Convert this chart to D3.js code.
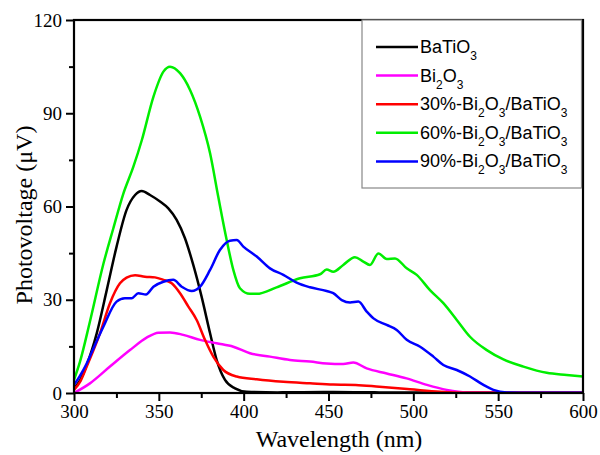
<!DOCTYPE html>
<html>
<head>
<meta charset="utf-8">
<script src="https://cdn.jsdelivr.net/npm/d3@7"></script>
<style>
  body { margin: 0; background: #fff; }
  svg { display: block; }
</style>
</head>
<body>
<script>
// plot box
const d_box = {left: 74, right: 583, top: 20, bottom: 393};

// series: [wavelength nm, photovoltage uV]
var a_batio3 = [[300,1.5],[304,4.5],[307.5,9],[313.4,19.2],[319.3,33.1],[325.1,47.1],[331,58.9],[336,63.7],[339.9,65],
    [344.8,63.7],[350.7,61.6],[355.6,59.4],[360.5,55.7],[365.4,49.8],[370.3,41.2],[375.2,31],[380.2,19.2],
    [384.1,10.6],[389,4.2],[394.9,1.5],[401.8,0.4],[420,0.2],[450,0.3],[480,0.2],[520,0.2],[560,0.1],[600,0.1]];
var a_bi2o3 = [[300,0],[309.4,3.1],[321.2,8.5],[333,13.8],[342.8,17.8],[349.7,19.4],[356.6,19.5],[364.4,18.7],
    [374.3,17.1],[384.1,16],[393.9,14.9],[403.7,12.8],[415.5,11.7],[427.3,10.6],[439.1,10.1],[448.9,9.5],
    [458.7,9.3],[464.6,9.8],[472.5,7.9],[484.3,6.3],[496,4.7],[508,2.6],[519.7,1],[531.5,0.2],[560,0.1],[600,0.1]];
var a_bi30 = [[300,1],[304,4],[307.5,8.5],[315.3,19.2],[321.2,28.9],[327.1,35.3],[331,37.1],[336,37.9],[341.8,37.4],
    [347.7,37.2],[352.7,36.4],[357.6,35.3],[362.5,32.1],[367.4,27.8],[372.3,23.5],[377.2,17.1],[382.1,11.7],
    [388,7.4],[395.9,5.3],[407.7,4.4],[423.4,3.6],[439.1,3.1],[452.8,2.7],[466,2.6],[480,2],[498,1.2],
    [515.7,0.4],[530,0.1],[560,0.1],[600,0.1]];
var a_bi60 = [[300,4.2],[303.5,10],[309.4,23],[317.3,41.5],[323.2,53],[329,64],[335,72.8],[340,81.4],
    [346.8,95.3],[352.7,103.4],[356.6,105],[362.5,102.9],[368.4,97.5],[374.3,88.9],[380.2,77.1],[385,63.2],
    [390,49.2],[393.9,39.6],[397.8,33.7],[403.7,31.9],[407.7,31.9],[419.4,34],[433.2,36.9],[445,38.2],
    [448.9,39.7],[452.8,39],[458.7,41.2],[465.6,43.7],[470.5,42.3],[474.4,41.2],[479.4,44.9],[484.3,43.1],
    [489.2,43.3],[496.1,40.1],[502,38],[509.8,33.1],[517.7,28.9],[525.6,23.5],[533.4,18.1],[543.3,13.8],
    [553.1,10.8],[564.9,8.5],[578.6,6.5],[590.4,5.8],[600,5.3]];
var a_bi90 = [[300,2.6],[303.5,5.5],[307.5,9.5],[312,15],[317.3,21.3],[325.1,29.4],[330,30.5],[334,30.5],[337.9,32.1],[342.4,31.7],
    [346.8,34.2],[352.7,35.8],[358.5,36.4],[363.5,34.2],[369.4,32.8],[374.3,34.2],[380.2,39.6],[386,46],
    [391.9,49],[395.9,49.2],[399.8,47.1],[407.7,43.9],[415.5,40.1],[423.4,38],[431.2,35.5],[439.1,34],
    [448.9,32.8],[452.8,32.1],[457.8,29.9],[462.7,29.1],[467.6,29.4],[472.5,26.2],[476.5,24],[484.3,21.9],
    [490.2,20.3],[496.1,17.1],[504,14.9],[511.8,11.7],[517.7,9],[525.6,7.4],[533.4,5.3],[541.3,2.6],
    [547.2,1],[555,0.2],[570.8,0.1],[600,0.1]];

var a_series = [a_batio3, a_bi2o3, a_bi30, a_bi60, a_bi90];
var a_colors = ["#000000", "#ff00ff", "#ff0000", "#00ee00", "#0000ff"];
// legend labels: [text, subscript?] pieces
var a_labels = [
    [["BaTiO",0],["3",1]],
    [["Bi",0],["2",1],["O",0],["3",1]],
    [["30%-Bi",0],["2",1],["O",0],["3",1],["/BaTiO",0],["3",1]],
    [["60%-Bi",0],["2",1],["O",0],["3",1],["/BaTiO",0],["3",1]],
    [["90%-Bi",0],["2",1],["O",0],["3",1],["/BaTiO",0],["3",1]]
];
var a_xticks = [300, 350, 400, 450, 500, 550, 600];
var a_yticks = [0, 30, 60, 90, 120];

var x = d3.scaleLinear().domain([300, 600]).range([d_box.left, d_box.right]);
var y = d3.scaleLinear().domain([0, 120]).range([d_box.bottom, d_box.top]);

var svg = d3.select("body").append("svg")
    .attr("width", 600)
    .attr("height", 455);

var serif = "'Liberation Serif', 'Times New Roman', serif";
var sans = "'Liberation Sans', Arial, sans-serif";

// curves
var line = d3.line()
    .x(function(d) { return x(d[0]); })
    .y(function(d) { return y(d[1]); })
    .curve(d3.curveMonotoneX);

svg.append("g").selectAll("path")
    .data(a_series)
    .enter().append("path")
    .attr("d", line)
    .attr("fill", "none")
    .attr("stroke", function(d, i) { return a_colors[i]; })
    .attr("stroke-width", 2.5)
    .attr("stroke-linejoin", "round");

// axes
var x_axis = d3.axisBottom(x).tickValues(a_xticks).tickSize(8).tickPadding(4).tickFormat(d3.format("d"));
var x_minor = d3.axisBottom(x).tickValues([325, 375, 425, 475, 525, 575]).tickSize(5).tickFormat("");
var y_axis = d3.axisLeft(y).tickValues(a_yticks).tickSize(8).tickPadding(4).tickFormat(d3.format("d"));
var y_minor = d3.axisLeft(y).tickValues([15, 45, 75, 105]).tickSize(5).tickFormat("");

function style_axis(g) {
    g.select(".domain").remove();
    g.selectAll("line").attr("stroke", "#000").attr("stroke-width", 2);
    g.selectAll("text").attr("font-family", serif).attr("font-size", 19).attr("fill", "#000");
}

svg.append("g").attr("transform", `translate(0,${d_box.bottom})`).call(x_axis).call(style_axis);
svg.append("g").attr("transform", `translate(0,${d_box.bottom})`).call(x_minor).call(style_axis);
svg.append("g").attr("transform", `translate(${d_box.left},0)`).call(y_axis).call(style_axis);
svg.append("g").attr("transform", `translate(${d_box.left},0)`).call(y_minor).call(style_axis);

// frame
svg.append("rect")
    .attr("x", d_box.left)
    .attr("y", d_box.top)
    .attr("width", d_box.right - d_box.left)
    .attr("height", d_box.bottom - d_box.top)
    .attr("fill", "none")
    .attr("stroke", "#000")
    .attr("stroke-width", 2.2);

// legend
var g_leg = svg.append("g");
g_leg.append("rect")
    .attr("x", 362)
    .attr("y", d_box.top)
    .attr("width", d_box.right - 1.5 - 362)
    .attr("height", 168)
    .attr("fill", "#fff")
    .attr("stroke", "#888")
    .attr("stroke-width", 1.2);

var rows = g_leg.selectAll(".row")
    .data(a_labels)
    .enter().append("g")
    .attr("transform", function(d, i) { return `translate(0,${47 + i * 28.6})`; });

rows.append("line")
    .attr("x1", 376).attr("x2", 418)
    .attr("y1", 0).attr("y2", 0)
    .attr("stroke", function(d, i) { return a_colors[i]; })
    .attr("stroke-width", 2.5);

var txt = rows.append("text")
    .attr("x", 420)
    .attr("y", 6)
    .attr("font-family", sans)
    .attr("font-size", 18)
    .attr("fill", "#000");

txt.each(function(parts) {
    var t = d3.select(this);
    var sub = 0;
    parts.forEach(function(p) {
        var dy = 0;
        if (p[1] && !sub) { dy = 7; sub = 1; }
        else if (!p[1] && sub) { dy = -7; sub = 0; }
        t.append("tspan")
            .attr("dy", dy)
            .attr("font-size", p[1] ? 12 : 18)
            .text(p[0]);
    });
});

// axis titles
svg.append("text")
    .attr("x", 339)
    .attr("y", 447)
    .attr("text-anchor", "middle")
    .attr("font-family", serif)
    .attr("font-size", 24)
    .text("Wavelength (nm)");

svg.append("text")
    .attr("transform", `translate(32,215) rotate(-90)`)
    .attr("text-anchor", "middle")
    .attr("font-family", serif)
    .attr("font-size", 24)
    .text("Photovoltage (\u03bcV)");
</script>
</body>
</html>
